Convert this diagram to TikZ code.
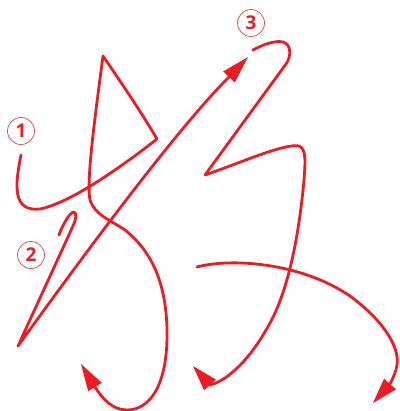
\documentclass[tikz,border=0pt]{standalone}
\usepackage{fontspec}
\setmainfont{Open Sans}
\usetikzlibrary{calc}
\definecolor{strk}{HTML}{ED1C24}
\newcommand\arrowhd[3]{\fill[strk] (#1) -- ($(#2)!#3!90:(#1)$) -- ($(#2)!#3!-90:(#1)$) -- cycle;}
\begin{document}
\begin{tikzpicture}[x=1pt,y=-1pt,
  stroke/.style={draw=strk,line width=2.8pt,line cap=round,line join=round},
  num/.style={circle,draw=strk!85,line width=0.7pt,minimum size=27pt,inner sep=0pt,text=strk,font=\fontsize{19}{19}\selectfont\bfseries}]
\useasboundingbox (0,0) rectangle (399,411);
% arrow tips and bases
\coordinate (t1) at (81,364);  \coordinate (b1) at (95,387);
\coordinate (t2) at (248,57);  \coordinate (b2) at (229,77);
\coordinate (t3) at (193,366); \coordinate (b3) at (210,385);
\coordinate (t4) at (373,403); \coordinate (b4) at (390,384);
% stroke 1
\draw[stroke] (21,155) .. controls (15,185) and (12,212) .. (40,209)
  .. controls (70,203) and (120,168) .. (157,139)
  .. controls (140,110) and (118,78) .. (103,56)
  .. controls (96,110) and (86,180) .. (90,200)
  .. controls (95,215) and (110,220) .. (125,230)
  .. controls (150,250) and (166,280) .. (167,330)
  .. controls (168,385) and (150,410) .. (127,410)
  .. controls (112,410) and (102,398) .. (b1);
\arrowhd{t1}{b1}{8pt}
% stroke 2
\draw[stroke] (59,235) .. controls (63,224) and (70,212) .. (74,212)
  .. controls (77,213) and (76,220) .. (73,226) -- (18,346)
  .. controls (78,263) and (174,132) .. (b2);
\arrowhd{t2}{b2}{8pt}
% stroke 3
\draw[stroke] (253,50) .. controls (262,45) and (275,40) .. (283,42)
  .. controls (292,45) and (291,57) .. (286,64) -- (205,175)
  .. controls (240,163) and (285,143) .. (299,146)
  .. controls (307,149) and (305,165) .. (304,180)
  .. controls (299,235) and (288,295) .. (266,330)
  .. controls (252,355) and (230,380) .. (b3);
\arrowhd{t3}{b3}{8pt}
% stroke 4
\draw[stroke] (197,267) .. controls (230,258) and (300,262) .. (350,296)
  .. controls (380,318) and (400,345) .. (397,365)
  .. controls (396,372) and (393,378) .. (b4);
\arrowhd{t4}{b4}{8pt}
% labels
\node[num] (n1) at (21,131) {1};
\node[num] (n2) at (31,255) {2};
\node[num] (n3) at (251,23) {3};
\end{tikzpicture}
\end{document}
